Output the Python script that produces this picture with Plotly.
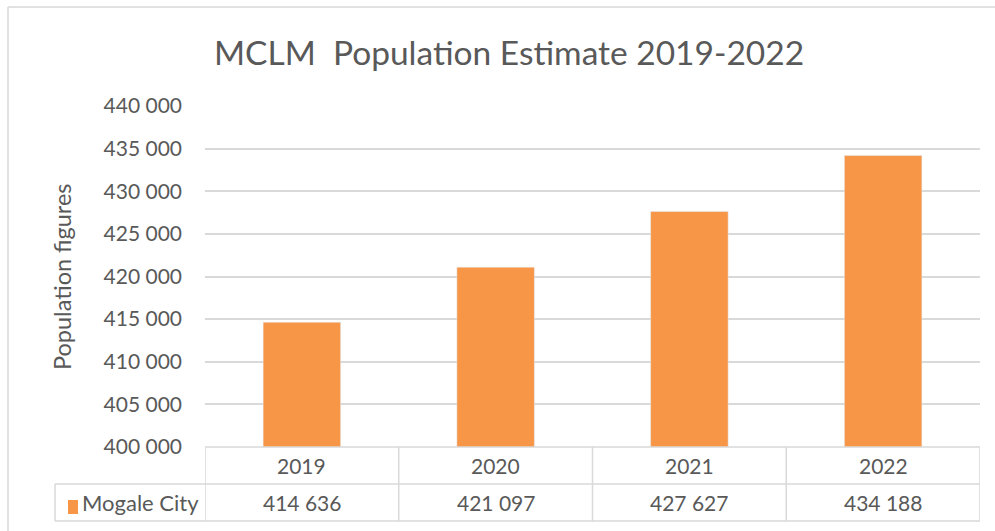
import plotly.graph_objects as go

years = ["2019", "2020", "2021", "2022"]
population = [414636, 421097, 427627, 434188]
series_name = "Mogale City"
title_text = "MCLM  Population Estimate 2019-2022"
y_title = "Population figures"
y_ticks = [400000, 405000, 410000, 415000, 420000, 425000, 430000, 435000, 440000]

W, H = 995, 531
L, R, T, B = 205, 15, 106, 84
pw, ph = W - L - R, H - T - B

def px(x):
    return (x - L) / pw

def py(y):
    return (H - B - y) / ph

FONT = "Lato"
GREY = "#595959"
LINE = "#d9d9d9"
ORANGE = "#F79646"

def fmt(v):
    return f"{v:,}".replace(",", " ")

fig = go.Figure(go.Bar(x=list(range(len(years))), y=population, marker_color=ORANGE,
                       name=series_name, showlegend=False))

shapes = []
n = len(years)
# outer border
shapes.append(dict(type="line", xref="paper", yref="paper", x0=px(8), x1=px(1000), y0=py(7), y1=py(7),
                   line=dict(color=LINE, width=1.5)))
shapes.append(dict(type="line", xref="paper", yref="paper", x0=px(8), x1=px(8), y0=py(7), y1=py(540),
                   line=dict(color=LINE, width=1.5)))
# table horizontal lines
y_top, y_mid, y_bot = 447, 484, 521
shapes.append(dict(type="line", xref="x", yref="paper", x0=-0.5, x1=n - 0.5, y0=py(y_top), y1=py(y_top),
                   line=dict(color=LINE, width=1.5)))
for yy in (y_mid, y_bot):
    shapes.append(dict(type="line", xref="paper", yref="paper", x0=px(55), x1=1, y0=py(yy), y1=py(yy),
                       line=dict(color=LINE, width=1.5)))
for i in range(n + 1):
    shapes.append(dict(type="line", xref="x", yref="paper", x0=i - 0.5, x1=i - 0.5, y0=py(y_top), y1=py(y_bot),
                       line=dict(color=LINE, width=1.5)))
shapes.append(dict(type="line", xref="paper", yref="paper", x0=px(55), x1=px(55), y0=py(y_mid), y1=py(y_bot),
                   line=dict(color=LINE, width=1.5)))
# legend square
shapes.append(dict(type="rect", xref="paper", yref="paper", x0=px(68), x1=px(78), y0=py(514), y1=py(500),
                   fillcolor=ORANGE, line=dict(width=0)))

ann = []
for i, (yr, v) in enumerate(zip(years, population)):
    ann.append(dict(x=i, y=py((y_top + y_mid) / 2), xref="x", yref="paper", text=yr, showarrow=False,
                    xanchor="center", yanchor="middle",
                    font=dict(family=FONT, size=21, color=GREY)))
    ann.append(dict(x=i, y=py((y_mid + y_bot) / 2), xref="x", yref="paper", text=fmt(v), showarrow=False,
                    xanchor="center", yanchor="middle",
                    font=dict(family=FONT, size=21, color=GREY)))
ann.append(dict(x=px(80), y=py((y_mid + y_bot) / 2), xref="paper", yref="paper", text=series_name,
                showarrow=False, xanchor="left", yanchor="middle", font=dict(family=FONT, size=22, color=GREY)))
ann.append(dict(x=px(62), y=py(277), xref="paper", yref="paper", text=y_title, textangle=-90,
                showarrow=False, xanchor="center", yanchor="middle", font=dict(family=FONT, size=23.5, color=GREY)))
ann.append(dict(x=px(509), y=py(52), xref="paper", yref="paper", text=title_text,
                showarrow=False, xanchor="center", yanchor="middle", font=dict(family=FONT, size=33.5, color=GREY)))

fig.update_layout(
    width=W, height=H,
    margin=dict(l=L, r=R, t=T, b=B, pad=0),
    paper_bgcolor="white", plot_bgcolor="white",
    separators=". ",
    bargap=0.6,
    shapes=shapes, annotations=ann,
    xaxis=dict(range=[-0.5, n - 0.5], showticklabels=False, showgrid=False, zeroline=False, showline=False),
    yaxis=dict(range=[400000, 440000], tickvals=y_ticks, tickformat=",d", showgrid=True, gridcolor=LINE,
               gridwidth=1.5, zeroline=False, showline=False, ticklabelstandoff=22,
               tickfont=dict(family=FONT, size=21, color=GREY)),
)

fig.write_html("out.html", config={"displayModeBar": False},
               post_script="document.body.style.margin='0';document.body.style.overflow='hidden';")
